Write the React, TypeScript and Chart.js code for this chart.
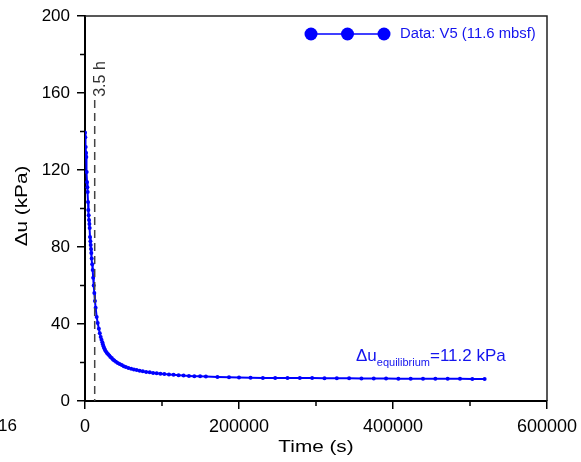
import React, { useEffect, useRef } from "react";
import { Chart, registerables } from "chart.js";

Chart.register(...registerables);

// ---- data ----
const timeS: number[] = [
  0, 400, 900, 1300, 1700, 2200, 2600, 3100, 3500, 3900, 4300, 4800, 5200, 5700, 6100, 6500,
  7000, 7400, 7800, 8200, 8700, 9300, 10000, 10600, 11300, 12100, 12900, 13800, 15200, 16500,
  18000, 19200, 20400, 21400, 22500, 23200, 24000, 25000, 26000, 27200, 28500, 30000, 31500,
  33000, 34700, 36300, 38000, 40200, 42500, 45000, 47700, 50300, 53000, 56400, 60000, 63500,
  67100, 71000, 75000, 79500, 84000, 88500, 93100, 98000, 103000, 109000, 115000, 121500,
  128000, 135000, 142000, 149500, 157000, 172000, 187000, 200000,
  215000, 231000, 247000, 263000, 279000, 295000, 311000, 327000, 343000, 359000, 375000,
  391000, 407000, 423000, 439000, 455000, 471000, 487000, 503000, 519000,
];
const deltaU: number[] = [
  139.5, 137, 132, 129, 126.8, 119, 113.8, 111, 108.6, 103.4, 99.2, 96.5, 94, 92, 89.9, 85.2,
  83, 81, 79, 76.9, 74, 71, 68, 64, 60, 56.1, 52, 48.5, 43.6, 40.5,
  37.5, 35.2, 33.2, 31.8, 30.5, 29.5, 28.5, 27.4, 26.5, 25.7, 25, 24.3, 23.6,
  22.9, 22.3, 21.6, 21, 20.4, 19.8, 19.2, 18.7, 18.1, 17.6, 17.2, 16.8, 16.4,
  16.1, 15.7, 15.4, 15.1, 14.9, 14.6, 14.4, 14.2, 14, 13.8, 13.6, 13.4,
  13.2, 13.05, 12.9, 12.8, 12.7, 12.5, 12.3, 12.2,
  12.1, 12.0, 12.0, 11.9, 11.9, 11.9, 11.8, 11.8, 11.8, 11.7, 11.7,
  11.7, 11.6, 11.6, 11.6, 11.5, 11.5, 11.5, 11.4, 11.4,
];
const xMin = 0, xMax = 600000, xStep = 200000, xMinorStep = 100000;
const yMin = 0, yMax = 200, yStep = 40, yMinorStep = 20;
const markerTimeS = 12600; // 3.5 h
const markerLabel = "3.5 h";
const legendLabel = "Data: V5 (11.6 mbsf)";
const xTitle = "Time (s)";
const yTitle = "\u0394u (kPa)";
const eqMain = "\u0394u";
const eqSub = "equilibrium";
const eqRest = "=11.2 kPa";
const strayLabel = "16";

const FONT = "'Liberation Sans', Arial, sans-serif";
const BLUE = "#0000ff";
const TEXT_BLUE = "#1414ee";

function stretched(ctx: CanvasRenderingContext2D, text: string, x: number, y: number, sx: number, rot = 0) {
  ctx.save();
  ctx.translate(x, y);
  if (rot) ctx.rotate(rot);
  ctx.scale(sx, 1);
  ctx.fillText(text, 0, 0);
  ctx.restore();
}

const overlay = {
  id: "overlay",
  afterDraw(chart: any) {
    const ctx = chart.ctx as CanvasRenderingContext2D;
    const { left, right, top, bottom } = chart.chartArea;
    const xs = chart.scales.x;
    const ys = chart.scales.y;
    ctx.save();
    // frame top/right
    ctx.strokeStyle = "#222";
    ctx.lineWidth = 1.5;
    ctx.beginPath();
    ctx.moveTo(left, top);
    ctx.lineTo(right, top);
    ctx.lineTo(right, bottom);
    ctx.stroke();
    // minor ticks
    ctx.strokeStyle = "#000";
    ctx.lineWidth = 1.5;
    ctx.beginPath();
    for (let v = xMin + xMinorStep; v < xMax; v += xStep) {
      const px = xs.getPixelForValue(v);
      ctx.moveTo(px, bottom);
      ctx.lineTo(px, bottom + 5);
    }
    for (let v = yMin + yMinorStep; v < yMax; v += yStep) {
      const py = ys.getPixelForValue(v);
      ctx.moveTo(left, py);
      ctx.lineTo(left - 5, py);
    }
    ctx.stroke();
    // dashed 3.5 h line
    const mx = xs.getPixelForValue(markerTimeS);
    ctx.strokeStyle = "#444";
    ctx.lineWidth = 1.5;
    ctx.setLineDash([8, 5]);
    ctx.beginPath();
    ctx.moveTo(mx, 100);
    ctx.lineTo(mx, bottom);
    ctx.stroke();
    ctx.setLineDash([]);
    ctx.fillStyle = "#333";
    ctx.font = `16px ${FONT}`;
    ctx.textAlign = "center";
    ctx.textBaseline = "middle";
    stretched(ctx, markerLabel, mx + 6, 79, 1.0, -Math.PI / 2);
    // axis titles
    ctx.fillStyle = "#000";
    ctx.font = `17px ${FONT}`;
    ctx.textAlign = "center";
    ctx.textBaseline = "middle";
    stretched(ctx, xTitle, (left + right) / 2, 447, 1.22);
    stretched(ctx, yTitle, 22, 206, 1.22, -Math.PI / 2);
    // stray label
    ctx.font = `17px ${FONT}`;
    ctx.textAlign = "right";
    stretched(ctx, strayLabel, 17, 426, 1.0);
    // legend
    const ly = 34;
    const lx = [311, 347.5, 384];
    ctx.strokeStyle = BLUE;
    ctx.lineWidth = 1.5;
    ctx.beginPath();
    ctx.moveTo(lx[0], ly);
    ctx.lineTo(lx[2], ly);
    ctx.stroke();
    ctx.fillStyle = BLUE;
    for (const x of lx) {
      ctx.beginPath();
      ctx.arc(x, ly, 6.5, 0, Math.PI * 2);
      ctx.fill();
    }
    ctx.fillStyle = TEXT_BLUE;
    ctx.font = `14px ${FONT}`;
    ctx.textAlign = "left";
    ctx.textBaseline = "middle";
    stretched(ctx, legendLabel, 400, ly, 1.06);
    // equilibrium annotation
    ctx.textBaseline = "alphabetic";
    ctx.font = `17px ${FONT}`;
    let ax = 356;
    ctx.fillText(eqMain, ax, 361);
    ax += ctx.measureText(eqMain).width;
    ctx.font = `11px ${FONT}`;
    ctx.fillText(eqSub, ax, 366);
    ax += ctx.measureText(eqSub).width;
    ctx.font = `17px ${FONT}`;
    ctx.fillText(eqRest, ax, 361);
    ctx.restore();
  },
};

export default function App() {
  const ref = useRef<HTMLCanvasElement>(null);
  useEffect(() => {
    if (!ref.current) return;
    const data = timeS.map((t, i) => ({ x: t, y: deltaU[i] }));
    const chart = new Chart(ref.current, {
      type: "scatter",
      data: {
        datasets: [
          {
            data,
            showLine: true,
            borderColor: BLUE,
            backgroundColor: BLUE,
            borderWidth: 2,
            pointRadius: 2,
            pointBorderWidth: 0,
            pointStyle: "circle",
          },
        ],
      },
      options: {
        responsive: false,
        animation: false,
        devicePixelRatio: 1,
        layout: { padding: { top: 16, right: 34, left: 0, bottom: 0 } },
        plugins: { legend: { display: false }, tooltip: { enabled: false } },
        scales: {
          x: {
            type: "linear",
            min: xMin,
            max: xMax,
            afterFit: (s: any) => { s.height = 61; s.paddingLeft = 0; s.paddingRight = 0; },
            ticks: {
              stepSize: xStep,
              color: "#000",
              font: { family: FONT, size: 18 },
              padding: 7,
              maxRotation: 0,
              callback: (v: any) => String(v),
            },
            grid: { drawOnChartArea: false, drawTicks: true, tickLength: 8, color: "#000", lineWidth: 1.5 },
            border: { color: "#000", width: 2 },
          },
          y: {
            type: "linear",
            min: yMin,
            max: yMax,
            afterFit: (s: any) => { s.width = 85; s.paddingTop = 0; s.paddingBottom = 0; },
            ticks: {
              stepSize: yStep,
              color: "#000",
              font: { family: FONT, size: 17 },
              padding: 7,
              callback: (v: any) => String(v),
            },
            grid: { drawOnChartArea: false, drawTicks: true, tickLength: 8, color: "#000", lineWidth: 1.5 },
            border: { color: "#000", width: 2 },
          },
        },
      },
      plugins: [overlay],
    } as any);
    return () => chart.destroy();
  }, []);
  return (
    <div style={{ position: "fixed", left: 0, top: 0, width: 581, height: 462, background: "#fff" }}>
      <canvas ref={ref} width={581} height={462} style={{ width: 581, height: 462, display: "block" }} />
    </div>
  );
}
